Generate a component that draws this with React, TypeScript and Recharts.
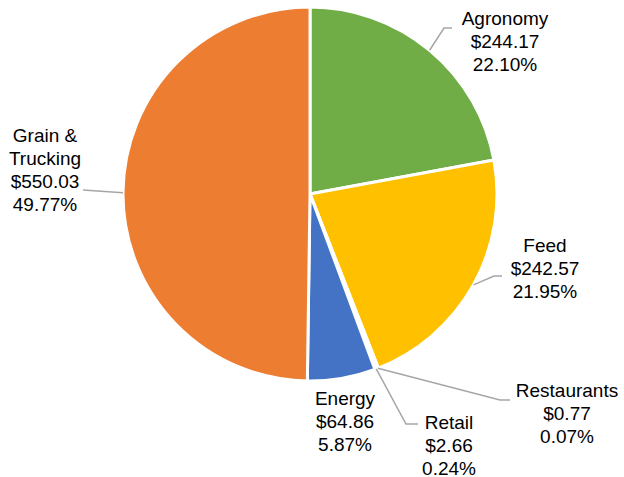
import { PieChart, Pie, Cell } from "recharts";

const segments = ["Agronomy", "Feed", "Restaurants", "Retail", "Energy", "Grain & Trucking"];
const amounts = [244.17, 242.57, 0.77, 2.66, 64.86, 550.03];
const colors = ["#70AD47", "#FFC000", "#A5A5A5", "#5B9BD5", "#4472C4", "#ED7D31"];

// where each label sits (text centre x, first line y) and the leader elbow, if any
const labelSpots = [
  { tx: 505, ty: 18, elbow: [444, 28], end: [452, 28] },
  { tx: 545, ty: 245, elbow: [494, 276], end: [502, 276] },
  { tx: 567, ty: 390, elbow: [500, 400], end: [510, 400] },
  { tx: 449, ty: 422, elbow: [406, 424], end: [418, 424] },
  { tx: 345, ty: 398, elbow: null, end: null },
  { tx: 45, ty: 135, elbow: null, end: [83, 190] },
];

const nameLines: Record<string, string[]> = {
  "Grain & Trucking": ["Grain &", "Trucking"],
};

const total = amounts.reduce((a, b) => a + b, 0);
const data = segments.map((name, i) => ({ name, value: amounts[i] }));

const RAD = Math.PI / 180;

const renderLabel = (props: any) => {
  const { cx, cy, midAngle, outerRadius, index, value, name } = props;
  const spot = labelSpots[index];
  const sx = cx + outerRadius * Math.cos(-midAngle * RAD);
  const sy = cy + outerRadius * Math.sin(-midAngle * RAD);
  const lines = [
    ...(nameLines[name] ?? [name]),
    `$${value.toFixed(2)}`,
    `${((value / total) * 100).toFixed(2)}%`,
  ];
  let path = "";
  if (spot.end) {
    path = `M${sx},${sy}`;
    if (spot.elbow) path += ` L${spot.elbow[0]},${spot.elbow[1]}`;
    path += ` L${spot.end[0]},${spot.end[1]}`;
  }
  return (
    <g>
      {path && <path d={path} stroke="#A6A6A6" strokeWidth={1.5} fill="none" />}
      <text
        x={spot.tx}
        y={spot.ty}
        textAnchor="middle"
        dominantBaseline="central"
        fill="#000"
        fontSize={19}
        fontFamily="'Liberation Sans', Arial, sans-serif"
      >
        {lines.map((l, i) => (
          <tspan key={i} x={spot.tx} dy={i === 0 ? 0 : 23}>
            {l}
          </tspan>
        ))}
      </text>
    </g>
  );
};

export default function App() {
  return (
    <div style={{ position: "absolute", left: 0, top: 0 }}>
      <PieChart width={624} height={477} margin={{ top: 0, right: 0, bottom: 0, left: 0 }}>
        <Pie
          data={data}
          dataKey="value"
          nameKey="name"
          cx={310}
          cy={194}
          outerRadius={187}
          startAngle={90}
          endAngle={-270}
          stroke="#fff"
          strokeWidth={3}
          label={renderLabel}
          labelLine={false}
          isAnimationActive={false}
        >
          {data.map((d, i) => (
            <Cell key={d.name} fill={colors[i]} />
          ))}
        </Pie>
      </PieChart>
    </div>
  );
}
